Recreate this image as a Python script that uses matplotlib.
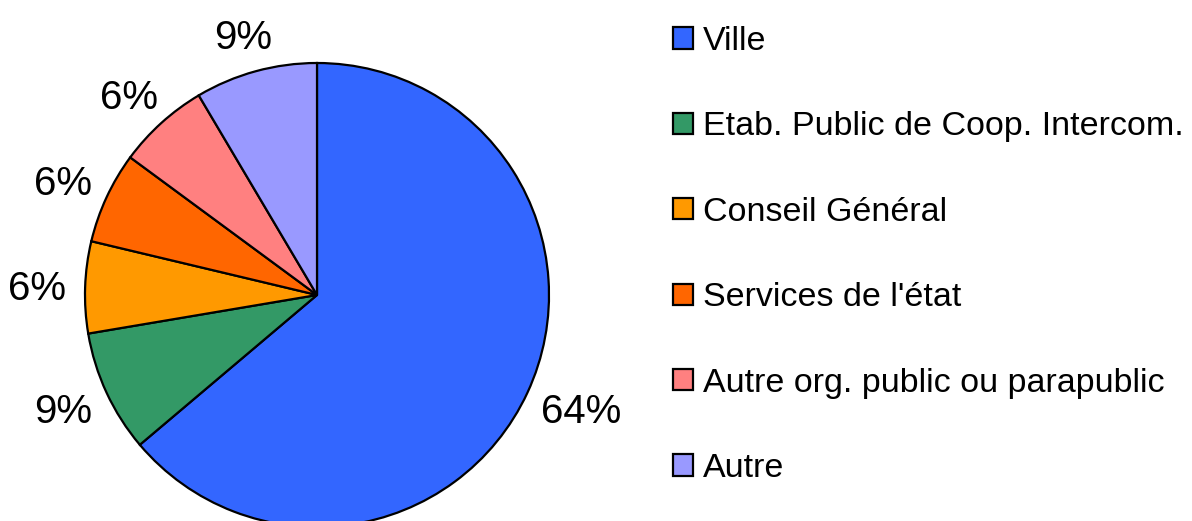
import matplotlib
matplotlib.use("Agg")
import numpy as np
import matplotlib.pyplot as plt

plt.rcParams['font.family'] = ['Liberation Sans', 'DejaVu Sans']

categories = ["Ville", "Etab. Public de Coop. Intercom.", "Conseil Général",
              "Services de l'état", "Autre org. public ou parapublic", "Autre"]
counts = [30, 4, 3, 3, 3, 4]
colors = ["#3366FF", "#339966", "#FF9900", "#FF6600", "#FF8080", "#9999FF"]

fig = plt.figure(figsize=(11.92, 5.21), dpi=100)
ax = fig.add_axes([85/1192, -6/521, 464/1192, 464/521])

wedges, texts, autotexts = ax.pie(
    counts, colors=colors, startangle=90, counterclock=False,
    autopct=lambda p: "%d%%" % round(p), pctdistance=1.2,
    wedgeprops=dict(edgecolor="black", linewidth=1.6),
    textprops=dict(fontsize=29, color="black"))
ax.set_xlim(-1, 1)
ax.set_ylim(-1, 1)
ax.set_aspect("equal")
ax.axis("off")

# place labels outside the pie edge, like the office-style "outside end"
fig.canvas.draw()
renderer = fig.canvas.get_renderer()
px = ax.transData.transform((1, 0))[0] - ax.transData.transform((0, 0))[0]
gap = 19 / px
for w, t in zip(wedges, autotexts):
    ang = np.deg2rad((w.theta1 + w.theta2) / 2)
    bb = t.get_window_extent(renderer)
    hw, hh = bb.width / 2 / px, bb.height / 2 / px
    c, s = np.cos(ang), np.sin(ang)
    t.set_position(((1 + gap) * c + hw * c, (1 + gap) * s + hh * s - 3 / px))
    t.set_ha("center")
    t.set_va("center")

fig.legend(wedges, categories, loc="center left",
           bbox_to_anchor=(673/1192, 1 - 255/521),
           frameon=False, fontsize=24.5, handlelength=0.59, handleheight=0.59,
           handletextpad=0.29, labelspacing=1.6, borderpad=0, borderaxespad=0)

fig.savefig("out.png", dpi=100)
